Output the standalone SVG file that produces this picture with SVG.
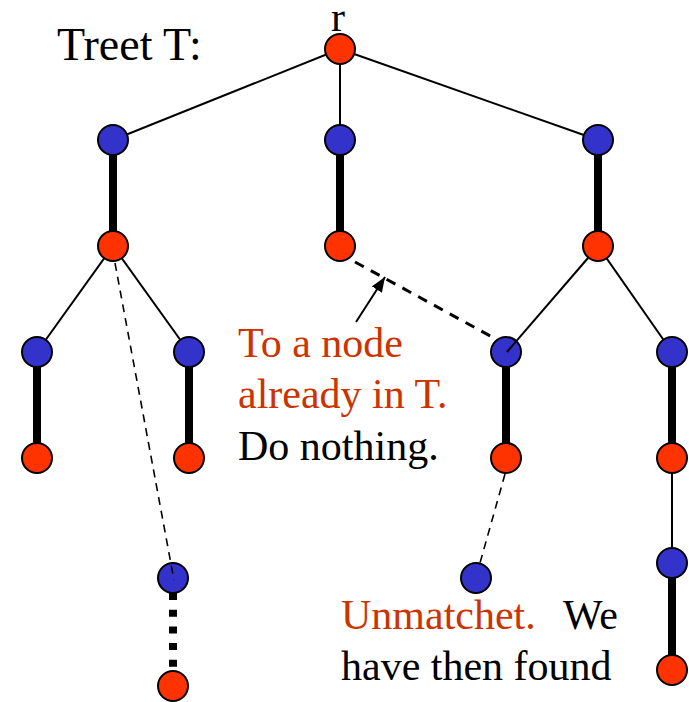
<svg xmlns="http://www.w3.org/2000/svg" width="689" height="702" viewBox="0 0 689 702">
  <defs>
    <style>
      .red { fill: #FF3300; stroke: #000; stroke-width: 2; }
      .blue { fill: #3333CC; stroke: #000; stroke-width: 2; }
      .thin { stroke: #000; stroke-width: 2; fill: none; }
      .thick { stroke: #000; stroke-width: 8; fill: none; }
      .dash { stroke: #000; stroke-width: 1.6; stroke-dasharray: 8 6; fill: none; }
      .dash2 { stroke: #000; stroke-width: 3; stroke-dasharray: 10 8; fill: none; }
      .dots { stroke: #000; stroke-width: 8; stroke-dasharray: 7 9.7; fill: none; }
      .lbl { font-family: "Liberation Serif", "Times New Roman", serif; font-size: 42px; fill: #000; }
      .big { font-size: 46px; }
      .hl { fill: #CC3300; }
    </style>
    <marker id="arrow" markerWidth="15" markerHeight="12" refX="15" refY="6" orient="auto" markerUnits="userSpaceOnUse" viewBox="0 0 15 12">
      <path d="M0,0 L15,6 L0,12 z" fill="#000"/>
    </marker>
  </defs>

  <rect width="689" height="702" fill="#fff"/>

  <!-- tree edges, drawn beneath the nodes -->
  <g id="connectors">
    <line class="thin" x1="340" y1="49" x2="113" y2="140"/>
    <line class="thin" x1="340" y1="49" x2="340" y2="140"/>
    <line class="thin" x1="340" y1="49" x2="598" y2="140"/>
    <line class="thick" x1="113" y1="140" x2="113" y2="246"/>
    <line class="thick" x1="340" y1="140" x2="340" y2="246"/>
    <line class="thick" x1="598" y1="140" x2="598" y2="246"/>
    <line class="thin" x1="113" y1="246" x2="37" y2="352"/>
    <line class="thin" x1="113" y1="246" x2="189" y2="352"/>
    <line class="thin" x1="598" y1="246" x2="672" y2="352"/>
    <line class="thick" x1="37" y1="352" x2="37" y2="458"/>
    <line class="thick" x1="189" y1="352" x2="189" y2="458"/>
    <line class="thick" x1="506" y1="352" x2="506" y2="458"/>
    <line class="thick" x1="672" y1="352" x2="672" y2="458"/>
    <line class="thin" x1="672" y1="458" x2="672" y2="563"/>
    <line class="thick" x1="672" y1="563" x2="672" y2="670"/>
    <line class="dots" x1="173" y1="593" x2="173" y2="672"/>
    <line class="dash2" x1="355" y1="262" x2="494" y2="338"/>
    <line class="dash" x1="505" y1="474" x2="480" y2="563"/>
  </g>

  <g id="node-r"><circle class="red" cx="340" cy="49" r="15"/></g>
  <g id="node-a"><circle class="blue" cx="113" cy="140" r="15"/></g>
  <g id="node-b"><circle class="blue" cx="340" cy="140" r="15"/></g>
  <g id="node-c"><circle class="blue" cx="598" cy="140" r="15"/></g>
  <g id="node-a2"><circle class="red" cx="113" cy="246" r="15"/></g>
  <g id="node-b2"><circle class="red" cx="340" cy="246" r="15"/></g>
  <g id="node-c2"><circle class="red" cx="598" cy="246" r="15"/></g>
  <g id="node-d"><circle class="blue" cx="37" cy="352" r="15"/></g>
  <g id="node-e"><circle class="blue" cx="189" cy="352" r="15"/></g>
  <g id="node-f"><circle class="blue" cx="506" cy="352" r="15"/></g>
  <g id="node-g"><circle class="blue" cx="672" cy="352" r="15"/></g>
  <g id="node-d2"><circle class="red" cx="37" cy="458" r="15"/></g>
  <g id="node-e2"><circle class="red" cx="189" cy="458" r="15"/></g>
  <g id="node-f2"><circle class="red" cx="506" cy="458" r="15"/></g>
  <g id="node-g2"><circle class="red" cx="672" cy="458" r="15"/></g>
  <g id="node-h"><circle class="blue" cx="173" cy="578" r="15"/></g>
  <g id="node-h2"><circle class="red" cx="173" cy="686" r="15"/></g>
  <g id="node-u"><circle class="blue" cx="476" cy="578" r="15"/></g>
  <g id="node-i"><circle class="blue" cx="672" cy="563" r="15"/></g>
  <g id="node-i2"><circle class="red" cx="672" cy="670" r="15"/></g>

  <!-- edges that run on into a node -->
  <g id="connectors-over">
    <line class="dash" x1="115" y1="263" x2="174" y2="580"/>
    <line class="thin" x1="588" y1="258" x2="507" y2="352"/>
    <line class="thin" x1="356" y1="322" x2="385" y2="277" marker-end="url(#arrow)"/>
  </g>

  <g id="labels">
    <text class="lbl" x="338" y="31" text-anchor="middle" font-size="46">r</text>
    <text class="lbl big" x="57" y="60">Treet T:</text>
    <text class="lbl hl" x="238" y="357">To a node</text>
    <text class="lbl hl" x="238" y="408">already in T.</text>
    <text class="lbl" x="238" y="460">Do nothing.</text>
    <text class="lbl hl" x="341" y="629">Unmatchet.</text>
    <text class="lbl" x="563" y="629">We</text>
    <text class="lbl" x="341" y="680">have then found</text>
  </g>
</svg>
